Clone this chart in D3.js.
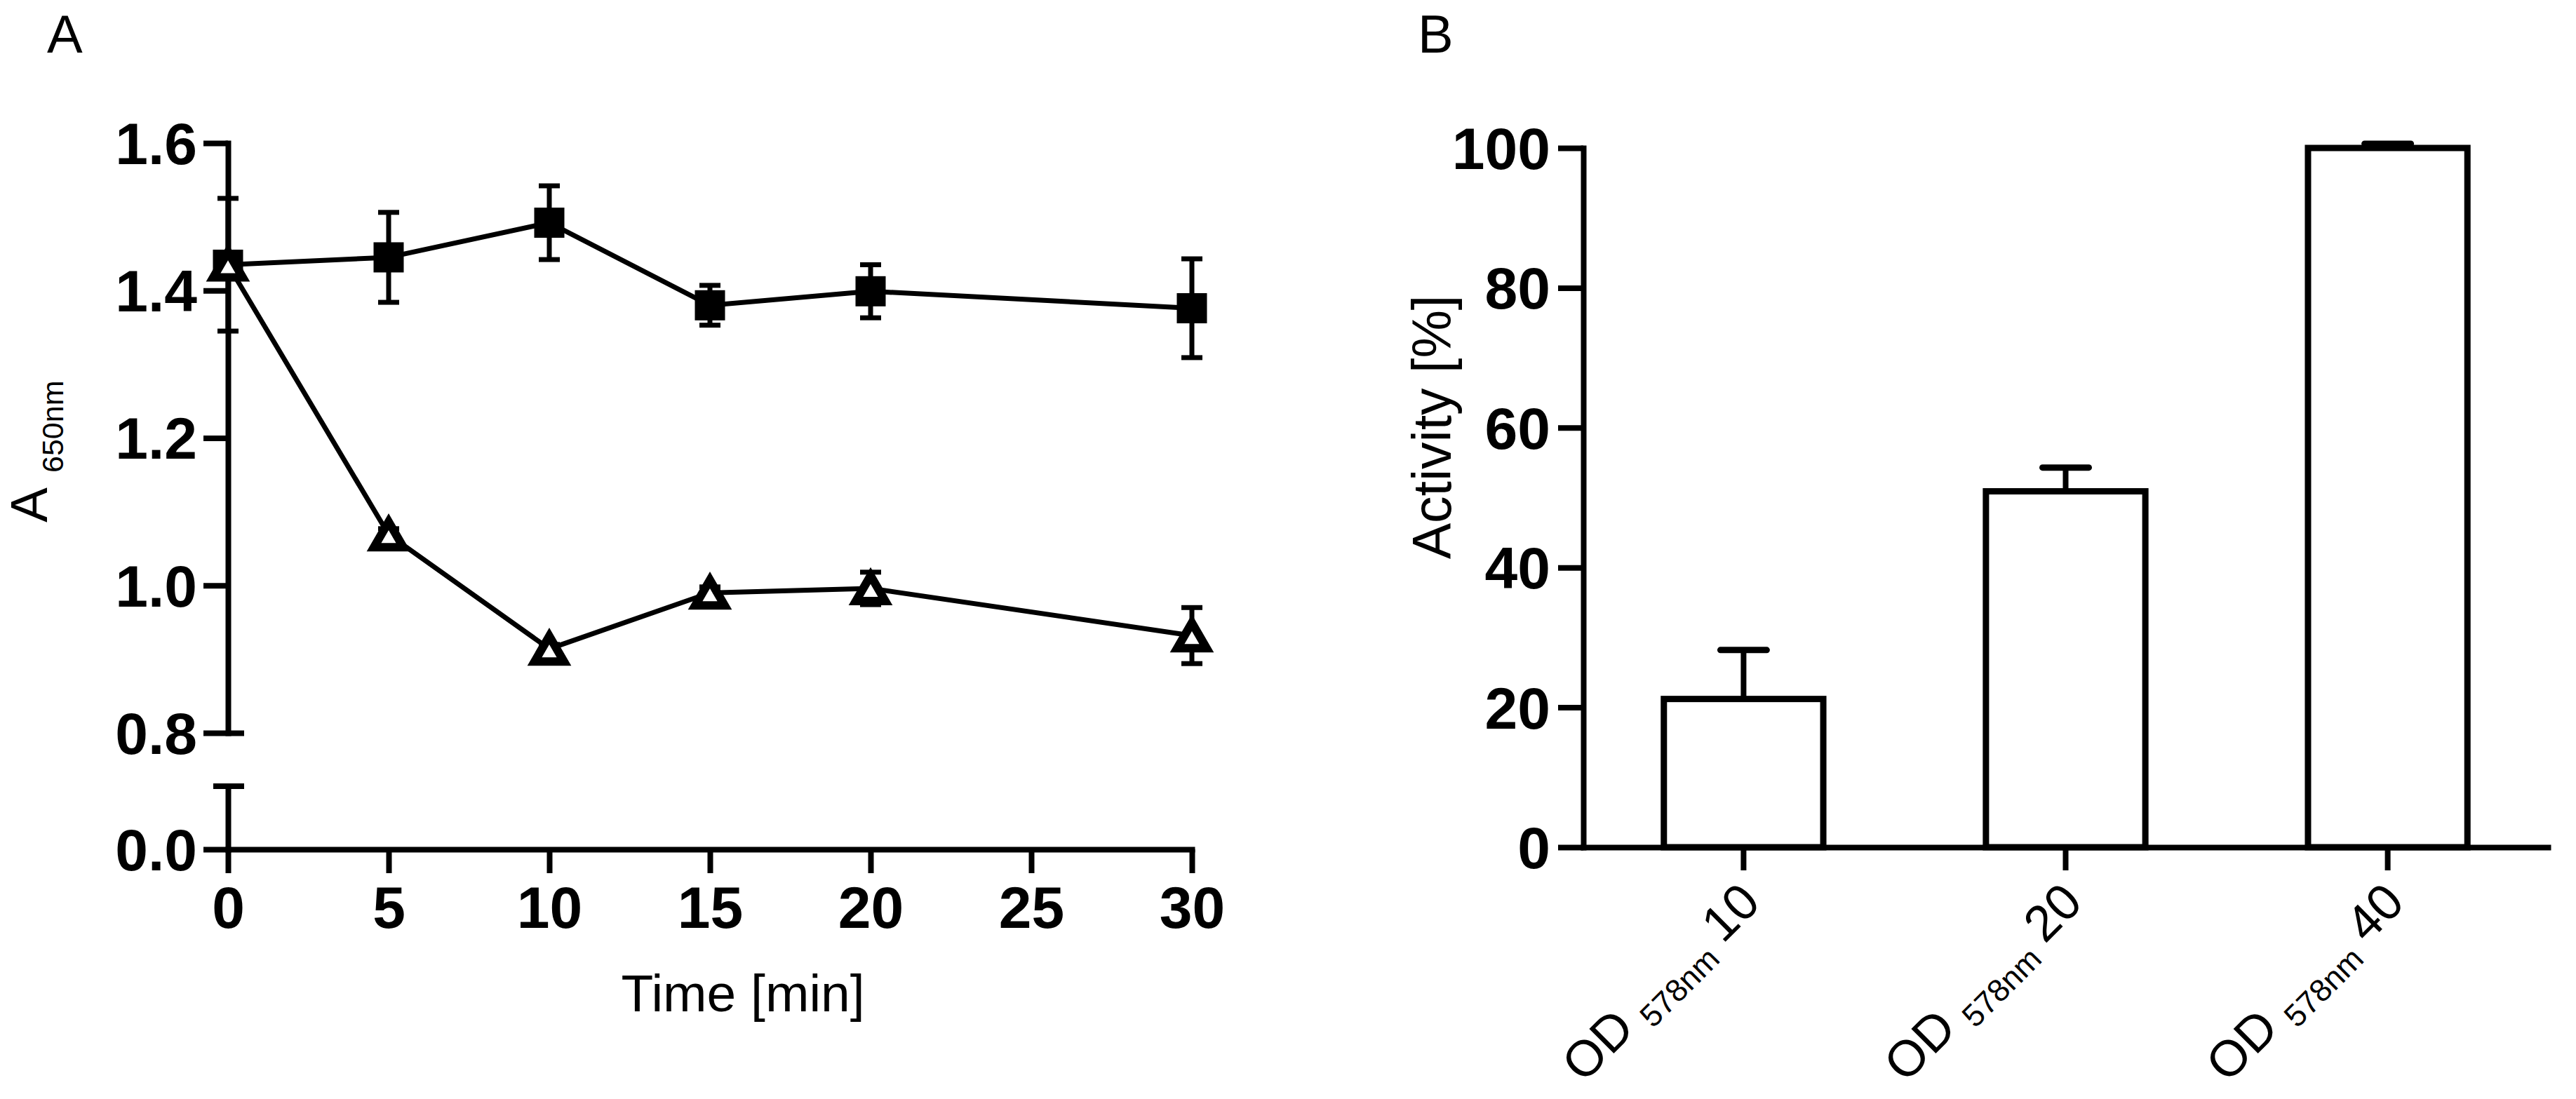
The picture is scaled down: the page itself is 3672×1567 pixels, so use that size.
<!DOCTYPE html>
<html><head><meta charset="utf-8">
<script src="https://cdn.jsdelivr.net/npm/d3@7"></script>
<style>body{margin:0;background:#fff} svg{display:block;background:#fff}</style>
</head><body>
<svg id="c" width="3672" height="1567"></svg>
<script>
// ---------- data ----------
const timePoints   = [0, 5, 10, 15, 20, 30];
const squareMean   = [1.435, 1.445, 1.492, 1.380, 1.399, 1.376];
const squareErr    = [0.010, 0.061, 0.050, 0.027, 0.036, 0.067];
const triangleMean = [1.435, 1.069, 0.914, 0.990, 0.996, 0.932];
const triangleErr  = [0.090, 0.008, 0.006, 0.008, 0.022, 0.038];
const xTicksA      = [0, 5, 10, 15, 20, 25, 30];
const yTicksA      = [0.8, 1.0, 1.2, 1.4, 1.6];
const categoriesB  = ["10", "20", "40"];
const activityMean = [21.2, 50.9, 100];
const activityErr  = [7.0, 3.4, 0.6];
const yTicksB      = [0, 20, 40, 60, 80, 100];

// ---------- setup ----------
const FONT = "'Liberation Sans', Arial, Helvetica, sans-serif";
const svg = d3.select("#c");
const AX = 8;

function styleAxis(g, fs) {
  g.attr("font-family", FONT).attr("font-size", fs).attr("font-weight", "bold");
  g.select(".domain").attr("stroke", "#000").attr("stroke-width", AX).attr("stroke-linecap", "square");
  g.selectAll(".tick line").attr("stroke", "#000").attr("stroke-width", AX);
  g.selectAll(".tick text").attr("fill", "#000");
}

// ---------- Panel A ----------
const xA = d3.scaleLinear().domain([0, 30]).range([325, 1699]);
const yA = d3.scaleLinear().domain([0.8, 1.6]).range([1045, 204]);
const yAlow = d3.scaleLinear().domain([0, 0.1]).range([1211, 1121]);

svg.append("text").attr("x", 67).attr("y", 75).attr("font-family", FONT)
  .attr("font-size", 76).text("A");

// upper y axis
const gYA = svg.append("g").attr("transform", `translate(${xA(0)},0)`)
  .call(d3.axisLeft(yA).tickValues(yTicksA).tickFormat(d3.format(".1f"))
    .tickSizeInner(35).tickSizeOuter(0).tickPadding(9));
styleAxis(gYA, 84);
gYA.selectAll(".tick text").attr("dy", "0.35em");
gYA.selectAll(".tick").filter(d => d === 0.8).select("line").attr("x1", 23);

// lower y axis segment (break)
const gYAl = svg.append("g").attr("transform", `translate(${xA(0)},0)`)
  .call(d3.axisLeft(yAlow).tickValues([0]).tickFormat(d3.format(".1f"))
    .tickSizeInner(35).tickSizeOuter(0).tickPadding(9));
styleAxis(gYAl, 84);
gYAl.selectAll(".tick text").attr("dy", "0.35em");
gYAl.append("line").attr("x1", -21).attr("x2", 23)
  .attr("y1", yAlow(0.1)).attr("y2", yAlow(0.1))
  .attr("stroke", "#000").attr("stroke-width", AX);

// x axis
const gXA = svg.append("g").attr("transform", `translate(0,${yAlow(0)})`)
  .call(d3.axisBottom(xA).tickValues(xTicksA).tickSizeInner(34).tickSizeOuter(0).tickPadding(18));
styleAxis(gXA, 84);

// axis titles
svg.append("text").attr("x", 1059).attr("y", 1442).attr("text-anchor", "middle")
  .attr("font-family", FONT).attr("font-size", 75).text("Time [min]");
const yLabA = svg.append("text").attr("transform", "translate(67,745) rotate(-90)")
  .attr("font-family", FONT).attr("font-size", 75);
yLabA.append("tspan").text("A");
yLabA.append("tspan").attr("font-size", 43).attr("dx", 21).attr("dy", 23).text("650nm");

// series
const seriesA = [
  { mean: squareMean, err: squareErr, kind: "square" },
  { mean: triangleMean, err: triangleErr, kind: "triangle" }
];
const line = d3.line().x((d, i) => xA(timePoints[i])).y(d => yA(d));
seriesA.forEach(s => {
  svg.append("path").datum(s.mean).attr("d", line)
    .attr("fill", "none").attr("stroke", "#000").attr("stroke-width", 7)
    .attr("stroke-linejoin", "round");
});
// error bars (behind markers)
seriesA.forEach(s => {
  const g = svg.append("g").attr("stroke", "#000");
  s.mean.forEach((m, i) => {
    const x = xA(timePoints[i]);
    const y1 = yA(m + s.err[i]), y0 = yA(m - s.err[i]);
    g.append("line").attr("x1", x).attr("x2", x).attr("y1", y1).attr("y2", y0).attr("stroke-width", 7);
    g.append("line").attr("x1", x - 15).attr("x2", x + 15).attr("y1", y1).attr("y2", y1).attr("stroke-width", 7);
    g.append("line").attr("x1", x - 15).attr("x2", x + 15).attr("y1", y0).attr("y2", y0).attr("stroke-width", 7);
  });
});
// markers
svg.append("g").selectAll("rect").data(squareMean).join("rect")
  .attr("x", (d, i) => xA(timePoints[i]) - 21.5).attr("y", d => yA(d) - 21.5)
  .attr("width", 43).attr("height", 43).attr("fill", "#000");
const tri = d3.symbol().type(d3.symbolTriangle).size(760);
svg.append("g").selectAll("path").data(triangleMean).join("path")
  .attr("d", tri)
  .attr("transform", (d, i) => `translate(${xA(timePoints[i])},${yA(d) + 6})`)
  .attr("fill", "#fff").attr("stroke", "#000").attr("stroke-width", 12)
  .attr("stroke-linejoin", "miter");

// ---------- Panel B ----------
const xB = d3.scaleBand().domain(categoriesB).range([2257, 3632]).paddingInner(0.505).paddingOuter(0.25);
const yB = d3.scaleLinear().domain([0, 100]).range([1208, 211]);

svg.append("text").attr("x", 2021).attr("y", 75).attr("font-family", FONT)
  .attr("font-size", 76).text("B");

// bars
svg.append("g").selectAll("rect").data(activityMean).join("rect")
  .attr("x", (d, i) => xB(categoriesB[i])).attr("width", xB.bandwidth())
  .attr("y", d => yB(d)).attr("height", d => yB(0) - yB(d))
  .attr("fill", "#fff").attr("stroke", "#000").attr("stroke-width", 9);
// error bars
const gEB = svg.append("g").attr("stroke", "#000");
activityMean.forEach((m, i) => {
  const cx = xB(categoriesB[i]) + xB.bandwidth() / 2;
  const yt = yB(m + activityErr[i]);
  gEB.append("line").attr("x1", cx).attr("x2", cx).attr("y1", yB(m)).attr("y2", yt).attr("stroke-width", 8);
  gEB.append("line").attr("x1", cx - 33).attr("x2", cx + 33).attr("y1", yt).attr("y2", yt)
    .attr("stroke-width", 9).attr("stroke-linecap", "round");
});

// axes
const gYB = svg.append("g").attr("transform", `translate(2257,0)`)
  .call(d3.axisLeft(yB).tickValues(yTicksB).tickSizeInner(36).tickSizeOuter(0).tickPadding(11));
styleAxis(gYB, 84);
gYB.selectAll(".tick text").attr("dy", "0.35em");
const gXB = svg.append("g").attr("transform", `translate(0,${yB(0)})`)
  .call(d3.axisBottom(xB).tickSizeInner(33).tickSizeOuter(0).tickFormat(""));
styleAxis(gXB, 72);

// category labels
categoriesB.forEach(c => {
  const cx = xB(c) + xB.bandwidth() / 2;
  const t = svg.append("text")
    .attr("transform", `translate(${cx + 27},1290) rotate(-45)`)
    .attr("text-anchor", "end").attr("font-family", FONT).attr("font-size", 72);
  t.append("tspan").text("OD");
  t.append("tspan").attr("font-size", 45).attr("dx", 18).attr("dy", 15).text("578nm");
  t.append("tspan").attr("dx", 18).attr("dy", -15).text(c);
});

// y title
svg.append("text").attr("transform", "translate(2068,609) rotate(-90)")
  .attr("text-anchor", "middle").attr("font-family", FONT).attr("font-size", 77)
  .text("Activity [%]");
</script>
</body></html>
